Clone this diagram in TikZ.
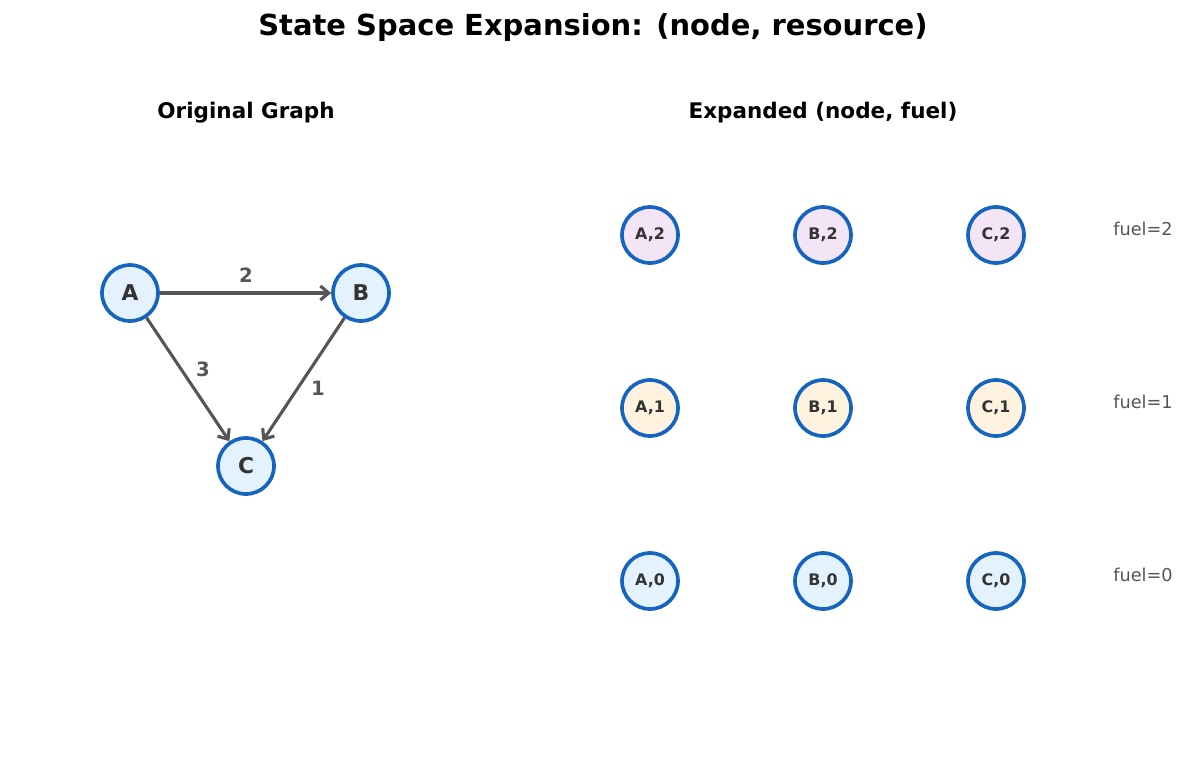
\documentclass[tikz,border=0pt]{standalone}
\usepackage{fontspec}
\setmainfont{DejaVu Sans}
\usetikzlibrary{arrows.meta}
\definecolor{nodeblue}{HTML}{1565C0}
\definecolor{fillblue}{HTML}{E3F2FD}
\definecolor{fillpurple}{HTML}{F3E5F5}
\definecolor{fillorange}{HTML}{FFF3E0}
\definecolor{edgegray}{HTML}{555555}
\definecolor{textdark}{HTML}{333333}
\begin{document}
\begin{tikzpicture}[%
        x=0.025cm, y=-0.025cm,
        graphnode/.style={shape=circle, minimum size=1.4cm, inner sep=0pt, draw=nodeblue, line width=2.6pt, fill=fillblue, text=textdark, font=\bfseries\fontsize{15.5}{18}\selectfont},
        statenode/.style={graphnode, font=\bfseries\fontsize{11.3}{13}\selectfont},
        edge/.style={draw=edgegray, line width=2.2pt, -{Straight Barb[length=6pt,width=10pt]}},
        weight/.style={text=edgegray, font=\bfseries\fontsize{14}{16}\selectfont},
        fuellabel/.style={text=edgegray, font=\fontsize{12.6}{15}\selectfont}
    ]
    \useasboundingbox (0,0) rectangle (1189,770);
    \node[font=\bfseries\fontsize{20.6}{24}\selectfont] (title) at (593,28) {State Space Expansion: (node, resource)};
    \node[font=\bfseries\fontsize{15.3}{18}\selectfont] (lefttitle) at (246,113) {Original Graph};
    \node[font=\bfseries\fontsize{15.3}{18}\selectfont] (righttitle) at (823,113) {Expanded (node, fuel)};

    % original graph
    \node[graphnode] (A) at (130,293) {A};
    \node[graphnode] (B) at (361,293) {B};
    \node[graphnode] (C) at (246,466) {C};
    \draw[edge] (A) -- (B);
    \draw[edge] (A) -- (C);
    \draw[edge] (B) -- (C);
    \node[weight] (wAB) at (246,275) {2};
    \node[weight] (wAC) at (203,369) {3};
    \node[weight] (wBC) at (318,388) {1};

    % expanded states
    \foreach \f/\y/\col in {2/235/fillpurple, 1/408/fillorange, 0/581/fillblue} {
        \foreach \n/\x in {A/650, B/823, C/996}
            \node[statenode, fill=\col] (\n\f) at (\x,\y) {\n,\f};
        \node[fuellabel] (fuel\f) at (1143,\y-6) {fuel=\f};
    }
\end{tikzpicture}
\end{document}
